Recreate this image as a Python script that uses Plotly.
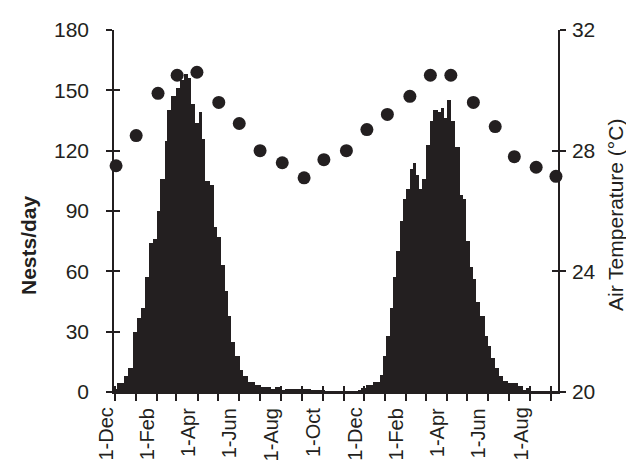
import plotly.graph_objects as go

# ---- data (day offsets from 1-Dec of first season) ----
month_start_days = [0, 31, 62, 90, 121, 151, 182, 212, 243, 274, 304, 335,
                    365, 396, 427, 455, 486, 516, 547, 577, 608, 639]
month_labels = ["1-Dec", "", "1-Feb", "", "1-Apr", "", "1-Jun", "", "1-Aug", "",
                "1-Oct", "", "1-Dec", "", "1-Feb", "", "1-Apr", "", "1-Jun", "",
                "1-Aug", ""]

# nesting histogram: bin edges (days) and nests/day in each bin
bin_edges = [0, 3, 13, 19, 26, 32, 38, 44, 50, 56, 62, 66, 73, 76, 82, 89, 95,
             101, 107, 111, 117, 123, 128, 132, 139, 145, 150, 155, 161, 166,
             170, 176, 183, 187, 195, 205, 214, 229, 234, 242, 249, 287, 308,
             356, 361, 368, 378, 388, 393, 397, 403, 407, 412, 418, 422, 427,
             432, 437, 441, 446, 450, 455, 462, 466, 473, 478, 482, 487, 492,
             498, 506, 510, 514, 520, 525, 529, 535, 542, 547, 551, 557, 563,
             569, 576, 591, 598, 602, 610, 649]
nests = [1.5, 4.5, 8, 12, 30, 37, 42, 57, 74, 76, 90, 106, 125, 140, 147, 151,
         155, 158, 156, 143, 134, 139, 126, 105, 103, 82, 77, 63, 50, 38, 25,
         18, 11, 8, 5, 3.5, 2.5, 1.5, 2.5, 1, 1.5, 0.5, 0.3,
         0.5, 2, 3.5, 5, 8.5, 18, 28, 42, 57, 70, 85, 96, 101, 111, 114, 108,
         101, 106, 123, 135, 140, 139, 141, 136, 145, 135, 122, 98, 96, 75, 62,
         56, 45, 38, 28, 23, 17, 12, 8, 5.5, 4.5, 3, 1, 2, 0.4]

# monthly air temperature
temp_days = [1.5, 31, 63, 91, 120, 152, 182, 212.5, 245, 277, 306, 339,
             369, 399, 432, 462, 492, 525, 557, 585, 617, 646]
air_temp = [27.5, 28.5, 29.9, 30.5, 30.6, 29.6, 28.9, 28.0, 27.6, 27.1, 27.7,
            28.0, 28.7, 29.2, 29.8, 30.5, 30.5, 29.6, 28.8, 27.8, 27.45, 27.15]

# ---- figure ----
INK = "#231f20"
FONT = "Liberation Sans, Arial, sans-serif"
XR = [-1.5, 649]

bin_start = bin_edges[:-1]
bin_width = [b - a for a, b in zip(bin_edges[:-1], bin_edges[1:])]

fig = go.Figure()
fig.add_trace(go.Bar(x=bin_start, y=nests, width=bin_width, offset=0,
                     marker=dict(color=INK, line=dict(width=0)),
                     xaxis="x", yaxis="y", showlegend=False))
# dummy traces so that the inside-tick overlay axes are drawn
fig.add_trace(go.Scatter(x=[None], y=[None], xaxis="x2", yaxis="y3",
                         showlegend=False, hoverinfo="skip"))
fig.add_trace(go.Scatter(x=[None], y=[None], xaxis="x", yaxis="y4",
                         showlegend=False, hoverinfo="skip"))
fig.add_trace(go.Scatter(x=temp_days, y=air_temp, mode="markers",
                         marker=dict(color=INK, size=13),
                         cliponaxis=False, xaxis="x", yaxis="y2",
                         showlegend=False))

tick_font = dict(family=FONT, size=21, color=INK)
xlab_font = dict(family=FONT, size=20, color=INK)
common = dict(showgrid=False, zeroline=False, tickcolor=INK, tickwidth=1.5)

# month labels drawn under the axis as rotated annotations at the tick values
label_ann = [dict(text=t, x=d, xref="x", y=0, yref="paper", textangle=-90,
                  xanchor="center", yanchor="top", yshift=-14, xshift=-10,
                  showarrow=False, font=xlab_font)
             for d, t in zip(month_start_days, month_labels) if t]

fig.update_layout(
    width=634, height=462,
    margin=dict(l=106, r=84, t=22, b=78, autoexpand=False),
    paper_bgcolor="white", plot_bgcolor="white",
    bargap=0,
    xaxis=dict(range=XR, tickmode="array", tickvals=month_start_days,
               ticks="outside", ticklen=7, showticklabels=False,
               showline=True, linecolor=INK, linewidth=1.5,
               anchor="y", **common),
    xaxis2=dict(range=XR, overlaying="x", tickmode="array",
                tickvals=month_start_days, ticks="inside", ticklen=6,
                showticklabels=False, showline=False, anchor="y",
                side="bottom", **common),
    yaxis=dict(range=[0, 180], tickmode="array",
               tickvals=[0, 30, 60, 90, 120, 150, 180], ticks="outside",
               ticklen=6, showline=True, linecolor=INK, linewidth=1.5,
               tickfont=tick_font, ticklabelstandoff=13, anchor="x", **common),
    yaxis3=dict(range=[0, 180], overlaying="y", tickmode="array",
                tickvals=[0, 30, 60, 90, 120, 150, 180], ticks="inside",
                ticklen=6, showticklabels=False, showline=False,
                anchor="x2", side="left", **common),
    yaxis2=dict(range=[20, 32], overlaying="y", side="right",
                tickmode="array", tickvals=[20, 24, 28, 32], ticks="outside",
                ticklen=6, showline=True, linecolor=INK, linewidth=1.5,
                tickfont=tick_font, ticklabelstandoff=2, anchor="x", **common),
    yaxis4=dict(range=[20, 32], overlaying="y", side="right",
                tickmode="array", tickvals=[20, 24, 28, 32], ticks="inside",
                ticklen=6, showticklabels=False, showline=False,
                anchor="x", **common),
    annotations=label_ann + [
        dict(text="<b>Nests/day</b>", textangle=-90, xref="paper", yref="paper",
             x=(20 - 106) / 444, y=(384 - 237) / 362, xanchor="center",
             yanchor="middle", showarrow=False,
             font=dict(family=FONT, size=21, color=INK)),
        dict(text="Air Temperature (°C)", textangle=-90, xref="paper",
             yref="paper", x=(607 - 106) / 444, y=(384 - 207) / 362,
             xanchor="center", yanchor="middle", showarrow=False,
             font=dict(family=FONT, size=21, color=INK)),
    ],
)

fig.write_html("out.html")
